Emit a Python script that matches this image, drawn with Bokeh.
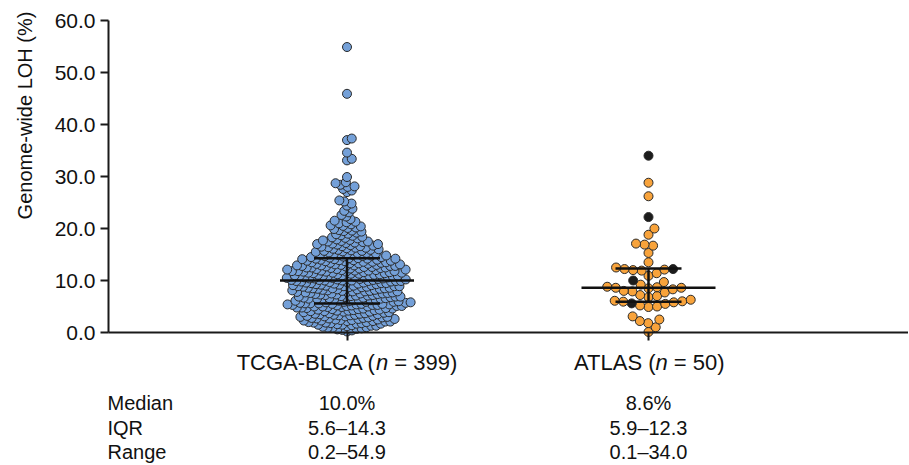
import math
from bokeh.plotting import figure
from bokeh.models import Range1d, FixedTicker, PrintfTickFormatter, Label, ColumnDataSource
from bokeh.embed import file_html
from bokeh.resources import INLINE

# ---------------- data ----------------
groups = ["TCGA-BLCA", "ATLAS"]
group_n = [399, 50]
group_x = [1, 2]

tcga_0_to_1 = [0.2, 0.4, 0.5, 0.6, 0.7, 0.8, 0.9, 0.9]
tcga_1_to_2 = [1.0, 1.1, 1.2, 1.3, 1.3, 1.4, 1.5, 1.5, 1.6, 1.7, 1.7, 1.8, 1.8, 1.9, 1.9]
tcga_2_to_3 = [2.0, 2.0, 2.1, 2.1, 2.2, 2.2, 2.3, 2.3, 2.4, 2.4, 2.5, 2.5, 2.6, 2.6, 2.7, 2.7,
               2.8, 2.8, 2.9, 2.9]
tcga_3_to_4 = [3.0, 3.0, 3.1, 3.1, 3.2, 3.2, 3.3, 3.3, 3.4, 3.4, 3.5, 3.5, 3.6, 3.6, 3.7, 3.7,
               3.8, 3.9, 3.9]
tcga_4_to_5 = [4.0, 4.0, 4.1, 4.1, 4.2, 4.2, 4.3, 4.3, 4.4, 4.4, 4.5, 4.5, 4.6, 4.6, 4.7, 4.7,
               4.8, 4.8, 4.9, 4.9]
tcga_5_to_6 = [5.0, 5.0, 5.0, 5.1, 5.1, 5.1, 5.2, 5.2, 5.3, 5.3, 5.3, 5.4, 5.4, 5.4, 5.5, 5.5,
               5.5, 5.6, 5.6, 5.6, 5.7, 5.7, 5.8, 5.8, 5.9, 5.9, 5.9]
tcga_6_to_7 = [6.0, 6.0, 6.1, 6.1, 6.2, 6.2, 6.3, 6.3, 6.4, 6.4, 6.5, 6.5, 6.5, 6.6, 6.6,
               6.7, 6.7, 6.8, 6.8, 6.9, 6.9, 6.9]
tcga_7_to_8 = [7.0, 7.0, 7.1, 7.1, 7.2, 7.2, 7.3, 7.3, 7.4, 7.4, 7.5, 7.5, 7.5, 7.6, 7.6,
               7.7, 7.7, 7.8, 7.8, 7.9, 7.9, 7.9]
tcga_8_to_9 = [8.0, 8.0, 8.1, 8.1, 8.2, 8.2, 8.3, 8.3, 8.4, 8.4, 8.5, 8.5, 8.5, 8.6, 8.6,
               8.7, 8.7, 8.8, 8.8, 8.9, 8.9, 8.9, 8.9]
tcga_9_to_10 = [9.0, 9.0, 9.1, 9.1, 9.2, 9.2, 9.3, 9.3, 9.4, 9.4, 9.5, 9.5, 9.5, 9.6, 9.6,
                9.7, 9.7, 9.8, 9.8, 9.9, 9.9, 9.9, 9.9]
tcga_10_to_11 = [10.0, 10.0, 10.0, 10.1, 10.1, 10.1, 10.2, 10.2, 10.3, 10.3, 10.4, 10.4, 10.4,
                 10.5, 10.5, 10.6, 10.6, 10.6, 10.7, 10.7, 10.8, 10.8, 10.9, 10.9, 10.9, 10.9]
tcga_11_to_12 = [11.0, 11.0, 11.1, 11.1, 11.2, 11.2, 11.3, 11.3, 11.4, 11.4, 11.5, 11.5, 11.5,
                 11.6, 11.6, 11.7, 11.7, 11.7, 11.8, 11.8, 11.8, 11.9, 11.9, 11.9]
tcga_12_to_13 = [12.0, 12.0, 12.1, 12.1, 12.2, 12.2, 12.3, 12.3, 12.4, 12.4, 12.5, 12.5, 12.5,
                 12.6, 12.6, 12.7, 12.7, 12.8, 12.8, 12.8, 12.9, 12.9, 12.9]
tcga_13_to_14 = [13.0, 13.0, 13.1, 13.1, 13.2, 13.2, 13.3, 13.3, 13.4, 13.4, 13.5, 13.5, 13.6,
                 13.6, 13.7, 13.7, 13.8, 13.8, 13.9, 13.9, 14.0, 14.0, 14.1, 14.1, 14.2, 14.2,
                 14.2, 14.3]
tcga_14_to_16 = [14.3, 14.4, 14.5, 14.5, 14.6, 14.7, 14.7, 14.8, 14.8, 14.9, 14.9, 15.0, 15.1,
                 15.2, 15.2, 15.3, 15.3, 15.4, 15.5, 15.6, 15.7, 15.7, 15.8, 15.9, 15.9]
tcga_16_to_18 = [16.0, 16.1, 16.2, 16.3, 16.3, 16.4, 16.5, 16.6, 16.6, 16.7, 16.8, 16.9, 17.0,
                 17.0, 17.1, 17.2, 17.3, 17.4, 17.5, 17.5, 17.6, 17.7, 17.8, 17.9]
tcga_18_to_20 = [18.1, 18.2, 18.3, 18.4, 18.6, 18.7, 18.9, 19.0, 19.2, 19.4, 19.5, 19.6, 19.7, 19.9]
tcga_20_to_22 = [20.1, 20.2, 20.4, 20.5, 20.6, 20.8, 21.0, 21.2, 21.3, 21.5, 21.8]
tcga_22_to_25 = [22.3, 22.6, 23.1, 23.4, 23.8, 24.4, 24.8]
tcga_25_to_28 = [25.2, 25.4, 27.0, 27.3, 27.6]
tcga_28_to_30 = [28.0, 28.1, 28.4, 28.7, 28.9, 29.9]
tcga_above_30 = [33.1, 33.4, 34.6, 37.0, 37.3, 45.9, 54.9]

tcga_values = (tcga_0_to_1 + tcga_1_to_2 + tcga_2_to_3 + tcga_3_to_4 + tcga_4_to_5 +
               tcga_5_to_6 + tcga_6_to_7 + tcga_7_to_8 + tcga_8_to_9 + tcga_9_to_10 +
               tcga_10_to_11 + tcga_11_to_12 + tcga_12_to_13 + tcga_13_to_14 +
               tcga_14_to_16 + tcga_16_to_18 + tcga_18_to_20 + tcga_20_to_22 +
               tcga_22_to_25 + tcga_25_to_28 + tcga_28_to_30 + tcga_above_30)

atlas_values = [0.1, 1.0, 1.8, 2.2, 2.5, 3.1, 4.9, 5.0, 5.2, 5.5, 5.6, 5.8,
                5.93, 6.0, 6.1, 6.3, 6.8, 7.0, 7.2, 7.7, 7.9, 8.0, 8.3, 8.5, 8.6,
                8.6, 8.7, 8.8, 9.2, 9.7, 10.0, 10.9, 11.4, 11.9, 12.0, 12.1, 12.2, 12.2,
                12.5, 13.5, 15.3, 16.7, 16.9, 17.1, 18.8, 20.0, 22.2, 26.2, 28.8, 34.0]
atlas_dark = [0, 0, 0, 0, 0, 0, 0, 0, 0, 0, 1, 0,
              0, 0, 0, 0, 0, 0, 0, 0, 0, 0, 0, 0, 0,
              0, 0, 0, 0, 0, 1, 0, 0, 0, 0, 0, 0, 1,
              0, 0, 0, 0, 0, 0, 0, 0, 1, 0, 0, 1]

medians = [10.0, 8.6]
q1s = [5.6, 5.9]
q3s = [14.3, 12.3]

table_rows = ["Median", "IQR", "Range"]
tcga_table = ["10.0%", "5.6\u201314.3", "0.2\u201354.9"]
atlas_table = ["8.6%", "5.9\u201312.3", "0.1\u201334.0"]

y_ticks = [0, 10, 20, 30, 40, 50, 60]

# ---------------- layout constants (page pixels) ----------------
W, H = 908, 464
AXIS_LEFT_PX = 108        # page x of the y axis
AXIS_BOTTOM_PX = 332      # page y of value 0
AXIS_TOP_PX = 20          # page y of value 60
CAT1_PX = 346.5
PX_PER_X = 301.5
PX_PER_Y = (AXIS_BOTTOM_PX - AXIS_TOP_PX) / 60.0

X_START = 1 - CAT1_PX / PX_PER_X
X_END = X_START + W / PX_PER_X


def px_to_x(px_page):
    return X_START + px_page / PX_PER_X


def py_to_y(py_page):
    return (AXIS_BOTTOM_PX - py_page) / PX_PER_Y


Y_START, Y_END = py_to_y(H), py_to_y(0)

FONT = "Liberation Sans"
BLUE = "#74A0D8"
ORANGE = "#F8A33B"
DARK = "#1c1c1c"
EDGE = "#2a2a2a"
INK = "#111111"


def swarm(vals, d):
    """Beeswarm offsets (in pixels) so that circles are at least d px apart."""
    order = sorted(range(len(vals)), key=lambda i: vals[i])
    placed = []
    xs = [0.0] * len(vals)
    for i in order:
        y = vals[i] * PX_PER_Y
        intervals = []
        for (px, py) in placed:
            dy = abs(py - y)
            if dy < d:
                w = math.sqrt(d * d - dy * dy)
                intervals.append((px - w, px + w))
        cands = [0.0] + [a for a, b in intervals] + [b for a, b in intervals]
        cands.sort(key=lambda c: (abs(c), -c))
        chosen = 0.0
        for c in cands:
            if all(not (a + 1e-7 < c < b - 1e-7) for a, b in intervals):
                chosen = c
                break
        xs[i] = chosen
        placed.append((chosen, y))
    return xs


p = figure(width=W, height=H,
           x_range=Range1d(X_START, X_END), y_range=Range1d(Y_START, Y_END),
           output_backend="svg", toolbar_location=None,
           min_border_left=0, min_border_right=0, min_border_top=0, min_border_bottom=0)
p.title.visible = False
p.outline_line_color = None
p.xgrid.visible = False
p.ygrid.visible = False
p.background_fill_color = "white"
p.border_fill_color = "white"

# points
tcga_off = swarm(tcga_values, 5.0)
tcga_src = ColumnDataSource(dict(
    x=[group_x[0] + o / PX_PER_X for o in tcga_off], y=tcga_values))
p.scatter("x", "y", source=tcga_src, size=9, fill_color=BLUE, line_color=EDGE, line_width=1)

atlas_off = swarm(atlas_values, 8.6)
atlas_src = ColumnDataSource(dict(
    x=[group_x[1] + o / PX_PER_X for o in atlas_off], y=atlas_values,
    c=[DARK if k else ORANGE for k in atlas_dark]))
p.scatter("x", "y", source=atlas_src, size=9, fill_color="c", line_color=EDGE, line_width=1)

# median and IQR bars
med_half = 67 / PX_PER_X
iqr_half = 33 / PX_PER_X
p.segment(x0=[gx - med_half for gx in group_x], x1=[gx + med_half for gx in group_x],
          y0=medians, y1=medians, line_color=INK, line_width=2.5)
p.segment(x0=[gx - iqr_half for gx in group_x] * 2, x1=[gx + iqr_half for gx in group_x] * 2,
          y0=q1s + q3s, y1=q1s + q3s, line_color=INK, line_width=2.5)
p.segment(x0=group_x, x1=group_x, y0=q1s, y1=q3s, line_color=INK, line_width=2.5)

# axes placed at fixed data locations inside the canvas
for ax in (p.xaxis[0], p.yaxis[0]):
    ax.axis_line_width = 2
    ax.axis_line_color = "#1a1a1a"
    ax.major_tick_line_width = 2
    ax.major_tick_line_color = "#1a1a1a"
    ax.major_tick_out = 8
    ax.major_tick_in = 0
    ax.minor_tick_line_color = None

p.yaxis.fixed_location = px_to_x(AXIS_LEFT_PX)
p.yaxis.bounds = (0, 60)
p.yaxis.ticker = FixedTicker(ticks=y_ticks)
p.yaxis.formatter = PrintfTickFormatter(format="%.1f")
p.yaxis.major_label_text_font = FONT
p.yaxis.major_label_text_font_size = "21px"
p.yaxis.major_label_text_color = INK
p.yaxis.major_label_standoff = 5

p.xaxis.fixed_location = 0
p.xaxis.bounds = (px_to_x(AXIS_LEFT_PX), X_END)
p.xaxis.ticker = FixedTicker(ticks=group_x)
p.xaxis.major_label_overrides = {gx: "" for gx in group_x}

# y axis label
p.add_layout(Label(x=px_to_x(24), y=py_to_y(115), text="Genome-wide LOH (%)",
                   angle=math.pi / 2, text_align="center", text_baseline="middle",
                   text_font=FONT, text_font_size="20px", text_color=INK))

# category labels with italic n
CAT_F = 22
cat_prefix_em = [6.334, 3.779]
cat_suffix_em = [3.141, 2.585]
n_em = 0.556
NBSP = "\u00a0"
for gx, name, n, pre, suf in zip(group_x, groups, group_n, cat_prefix_em, cat_suffix_em):
    total = (pre + n_em + suf) * CAT_F
    left = gx - (total / 2) / PX_PER_X
    xa = left + pre * CAT_F / PX_PER_X
    xb = xa + n_em * CAT_F / PX_PER_X
    yc = py_to_y(362)
    p.add_layout(Label(x=xa, y=yc, text=name + " (", text_align="right",
                       text_baseline="middle", text_font=FONT,
                       text_font_size=f"{CAT_F}px", text_color=INK))
    p.add_layout(Label(x=xa, y=yc, text="n", text_align="left", text_font_style="italic",
                       text_baseline="middle", text_font=FONT,
                       text_font_size=f"{CAT_F}px", text_color=INK))
    p.add_layout(Label(x=xb, y=yc, text=f"{NBSP}={NBSP}{n})", text_align="left",
                       text_baseline="middle", text_font=FONT,
                       text_font_size=f"{CAT_F}px", text_color=INK))

# summary table
row_centers = [402.8, 427.3, 451.3]
for row, yc_px, tv, av in zip(table_rows, row_centers, tcga_table, atlas_table):
    y = py_to_y(yc_px)
    p.add_layout(Label(x=px_to_x(107), y=y, text=row, text_align="left",
                       text_baseline="middle", text_font=FONT,
                       text_font_size="20px", text_color=INK))
    for gx, txt in zip(group_x, (tv, av)):
        p.add_layout(Label(x=gx, y=y, text=txt, text_align="center",
                           text_baseline="middle", text_font=FONT,
                           text_font_size="20px", text_color=INK))

open("out.html", "w").write(file_html(p, INLINE))
